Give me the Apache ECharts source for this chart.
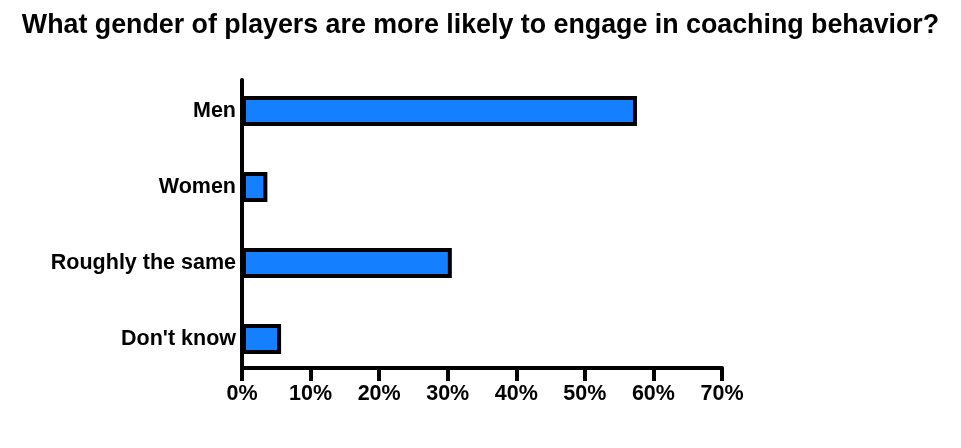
<!DOCTYPE html>
<html>
<head>
<meta charset="utf-8">
<script src="https://cdn.jsdelivr.net/npm/echarts@6/dist/echarts.min.js"></script>
<style>
    html, body { margin: 0; padding: 0; background: #fff; }
    #main { width: 961px; height: 448px; }
</style>
</head>
<body>
<div id="main"></div>
<script>
var titleText = 'What gender of players are more likely to engage in coaching behavior?';
var categories = ['Men', 'Women', 'Roughly the same', "Don't know"];
var percents = [57.6, 3.7, 30.6, 5.7];
var tickMin = 0, tickMax = 70, tickStep = 10;

var fontName = '"Liberation Sans", Arial, sans-serif';

(function () {
    var myChart = echarts.init(document.getElementById('main'));
    var option = {
        animation: false,
        title: {
            text: titleText,
            left: 'center',
            top: 7,
            textStyle: {
                fontFamily: fontName,
                fontWeight: 'bold',
                fontSize: 26.8,
                color: '#000'
            }
        },
        // grid 0 carries the bars, grid 1 only draws the axis frame
        grid: [
            {left: 242, right: 239, top: 73, bottom: 71},
            {left: 242, right: 239, top: 80, bottom: 80}
        ],
        xAxis: [
            {
                gridIndex: 0,
                type: 'value',
                min: tickMin,
                max: tickMax,
                show: false
            },
            {
                gridIndex: 1,
                type: 'value',
                min: tickMin,
                max: tickMax,
                interval: tickStep,
                axisLine: {show: true, lineStyle: {color: '#000', width: 4}},
                axisTick: {show: true, length: 13, lineStyle: {color: '#000', width: 4}},
                splitLine: {show: false},
                axisLabel: {
                    margin: 15,
                    color: '#000',
                    fontFamily: fontName,
                    fontWeight: 'bold',
                    fontSize: 21.5,
                    formatter: '{value}%'
                }
            }
        ],
        yAxis: [
            {
                gridIndex: 0,
                type: 'category',
                inverse: true,
                data: categories,
                axisLine: {show: false},
                axisTick: {show: false},
                axisLabel: {
                    margin: 6,
                    color: '#000',
                    fontFamily: fontName,
                    fontWeight: 'bold',
                    fontSize: 21.5
                }
            },
            {
                gridIndex: 1,
                type: 'value',
                min: 0,
                max: 1,
                axisLine: {show: true, lineStyle: {color: '#000', width: 4}},
                axisTick: {show: false},
                axisLabel: {show: false},
                splitLine: {show: false}
            }
        ],
        series: [
            {
                type: 'bar',
                xAxisIndex: 0,
                yAxisIndex: 0,
                data: percents,
                barWidth: 30,
                itemStyle: {
                    color: '#1580ff',
                    borderColor: '#000',
                    borderWidth: 4
                }
            }
        ]
    };
    myChart.setOption(option);
}())
</script>
</body>
</html>
